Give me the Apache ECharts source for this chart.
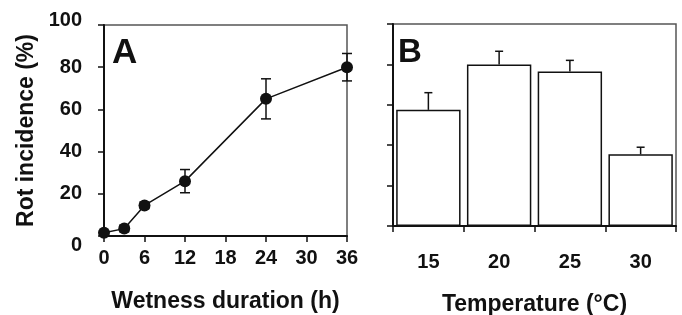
<!DOCTYPE html>
<html>
<head>
<meta charset="utf-8">
<script src="https://cdn.jsdelivr.net/npm/echarts@6/dist/echarts.min.js"></script>
<style>
  html, body { margin: 0; padding: 0; background: #fff; }
  #main { width: 682px; height: 315px; }
</style>
</head>
<body>
<div id="main"></div>
<script>
// panel A: rot incidence vs wetness duration
var wetHours = [0, 3, 6, 12, 24, 36];
var rotMean = [1.5, 3.5, 14.5, 26, 65, 80];
var rotErr = [0.8, 1.5, 1.5, 5.5, 9.5, 6.5];

// panel B: rot incidence vs temperature
var temps = ["15", "20", "25", "30"];
var tempMean = [57.5, 80, 76.5, 35.5];
var tempErr = [8.5, 6.5, 5.5, 3.5];

var font = "Liberation Sans, Arial, sans-serif";
var ink = "#111";

function errorBars(capW, upOnly) {
  return function(params, api) {
    var x = api.value(0);
    var m = api.value(1);
    var e = api.value(2);
    var top = api.coord([x, m + e]);
    var bot = api.coord([x, upOnly ? m : m - e]);
    var st = { stroke: ink, lineWidth: 1.5 };
    var kids = [
      { type: "line", shape: { x1: top[0], y1: top[1], x2: bot[0], y2: bot[1] }, style: st },
      { type: "line", shape: { x1: top[0] - capW / 2, y1: top[1], x2: top[0] + capW / 2, y2: top[1] }, style: st }
    ];
    if (!upOnly) {
      kids.push({ type: "line", shape: { x1: bot[0] - capW / 2, y1: bot[1], x2: bot[0] + capW / 2, y2: bot[1] }, style: st });
    }
    return { type: "group", children: kids };
  };
}

var lbl = { color: ink, fontSize: 20, fontWeight: "bold", fontFamily: font };
var axisLine = { show: true, onZero: false, lineStyle: { color: ink, width: 2 } };
var axisTick = { show: true, inside: false, length: 6, lineStyle: { color: ink, width: 1.5 } };
var nameStyle = { color: ink, fontSize: 23, fontWeight: "bold", fontFamily: font };

var chart = echarts.init(document.getElementById("main"));
var option = {
  animation: false,
  title: [
    { text: "A", left: 107, top: 31, textStyle: { fontSize: 35, fontWeight: "bold", fontFamily: font, color: ink } },
    { text: "B", left: 393, top: 31, textStyle: { fontSize: 33, fontWeight: "bold", fontFamily: font, color: ink } }
  ],
  grid: [
    { left: 104, top: 25, width: 243, height: 211, show: true, borderColor: "#555", borderWidth: 1.5, outerBoundsMode: "none", containLabel: false },
    { left: 393, top: 24, width: 283, height: 202, show: true, borderColor: "#555", borderWidth: 1.5, outerBoundsMode: "none", containLabel: false }
  ],
  xAxis: [
    {
      gridIndex: 0, type: "value", min: 0, max: 36, interval: 6,
      axisLine: axisLine, axisTick: axisTick, splitLine: { show: false },
      axisLabel: Object.assign({ margin: 12 }, lbl),
      name: "Wetness duration (h)", nameLocation: "middle", nameGap: 54,
      nameTextStyle: nameStyle
    },
    {
      gridIndex: 1, type: "category", data: temps,
      axisLine: axisLine, axisTick: axisTick, splitLine: { show: false },
      axisLabel: Object.assign({ margin: 26 }, lbl),
      name: "Temperature (°C)", nameLocation: "middle", nameGap: 67,
      nameTextStyle: nameStyle
    }
  ],
  yAxis: [
    {
      gridIndex: 0, type: "value", min: 0, max: 100, interval: 20,
      axisLine: axisLine, axisTick: axisTick, splitLine: { show: false },
      axisLabel: Object.assign({
        margin: 22,
        formatter: function(v) {
          if (v === 0) return "{lo|0}";
          if (v === 100) return "{hi|100}";
          return v;
        },
        rich: {
          lo: Object.assign({ padding: [18, 0, 0, 0] }, lbl),
          hi: Object.assign({ padding: [0, 0, 10, 0] }, lbl)
        }
      }, lbl),
      name: "Rot incidence (%)", nameLocation: "middle", nameGap: 66,
      nameTextStyle: nameStyle
    },
    {
      gridIndex: 1, type: "value", min: 0, max: 100, interval: 20,
      axisLine: axisLine, axisTick: axisTick, splitLine: { show: false },
      axisLabel: { show: false }
    }
  ],
  series: [
    {
      type: "custom", xAxisIndex: 0, yAxisIndex: 0,
      renderItem: errorBars(10, false),
      data: wetHours.map(function(h, i) { return [h, rotMean[i], rotErr[i]]; }),
      z: 3
    },
    {
      type: "line", xAxisIndex: 0, yAxisIndex: 0,
      data: wetHours.map(function(h, i) { return [h, rotMean[i]]; }),
      symbol: "circle", symbolSize: 12,
      itemStyle: { color: ink },
      lineStyle: { color: ink, width: 1.5 },
      z: 4
    },
    {
      type: "bar", xAxisIndex: 1, yAxisIndex: 1,
      data: tempMean,
      barCategoryGap: "9%",
      itemStyle: { color: "#fff", borderColor: ink, borderWidth: 1.5 },
      z: 2
    },
    {
      type: "custom", xAxisIndex: 1, yAxisIndex: 1,
      renderItem: errorBars(8, true),
      data: temps.map(function(t, i) { return [i, tempMean[i], tempErr[i]]; }),
      z: 3
    }
  ]
};
chart.setOption(option);
</script>
</body>
</html>
